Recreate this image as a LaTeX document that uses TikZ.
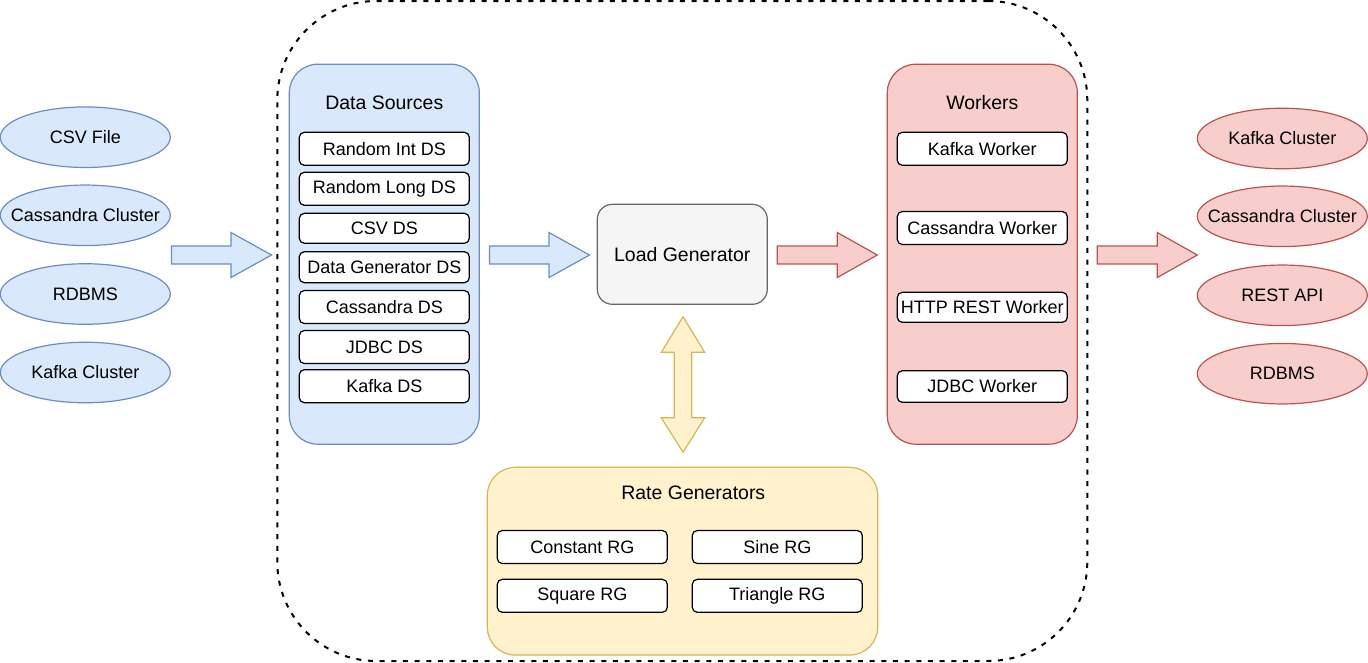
\documentclass[tikz,border=0pt]{standalone}
\usepackage{fontspec}
\setmainfont{Liberation Sans}
\usetikzlibrary{shapes.geometric}

\definecolor{dsfill}{HTML}{DAE8FC}
\definecolor{dsline}{HTML}{6C8EBF}
\definecolor{wkfill}{HTML}{F8CECC}
\definecolor{wkline}{HTML}{B85450}
\definecolor{rgfill}{HTML}{FFF2CC}
\definecolor{rgline}{HTML}{D6B656}
\definecolor{lgfill}{HTML}{F5F5F5}
\definecolor{lgline}{HTML}{666666}

\tikzset{every picture/.style={line width=0.9pt}}
\tikzset{
  itemfont/.style={font=\fontsize{13.5pt}{16pt}\selectfont},
  titlefont/.style={font=\fontsize{14.6pt}{17pt}\selectfont},
  srcell/.style={ellipse, draw=dsline, fill=dsfill, minimum width=127.5pt, minimum height=45.4pt, inner xsep=-14pt, inner ysep=0pt, itemfont},
  dstell/.style={ellipse, draw=wkline, fill=wkfill, minimum width=127.5pt, minimum height=45.4pt, inner xsep=-14pt, inner ysep=0pt, itemfont},
  itembox/.style={draw=black, fill=white, rounded corners=3.75pt, minimum width=127.5pt, minimum height=24.75pt, inner sep=0pt, itemfont},
  dsgroup/.style={draw=dsline, fill=dsfill, rounded corners=21.4pt, minimum width=142.5pt, minimum height=285pt, inner sep=0pt},
  wkgroup/.style={draw=wkline, fill=wkfill, rounded corners=21.4pt, minimum width=142.5pt, minimum height=285pt, inner sep=0pt},
  rggroup/.style={draw=rgline, fill=rgfill, rounded corners=21pt, minimum width=292.8pt, minimum height=140.8pt, inner sep=0pt},
  lgbox/.style={draw=lgline, fill=lgfill, rounded corners=11.25pt, minimum width=127.5pt, minimum height=75pt, inner sep=0pt, titlefont},
  system/.style={draw=black, dash pattern=on 3.75pt off 5pt, line width=1.5pt, rounded corners=74.25pt, minimum width=607.5pt, minimum height=495pt, inner sep=0pt},
  blueblock/.style={draw=dsline, fill=dsfill},
  redblock/.style={draw=wkline, fill=wkfill},
  yellowblock/.style={draw=rgline, fill=rgfill},
}

\begin{document}
\begin{tikzpicture}[x=0.75pt,y=0.75pt,yscale=-1,xscale=1]
\useasboundingbox (0,0) rectangle (1368,662);

%Rounded Rect (dashed system border)
\node [system] (sys) at (682.3,331) {};

%Shape: Ellipse (sources)
\node [srcell] (csvfile) at (85.3,137.2) {CSV File};
\node [srcell] (srccass) at (85.3,215.3) {Cassandra Cluster};
\node [srcell] (srcrdbms) at (85.3,294) {RDBMS};
\node [srcell] (srckafka) at (85.3,372.5) {Kafka Cluster};

%Shape: Ellipse (targets)
\node [dstell] (dstkafka) at (1282.3,138.5) {Kafka Cluster};
\node [dstell] (dstcass) at (1282.3,216.3) {Cassandra Cluster};
\node [dstell] (dstrest) at (1282.3,295.3) {REST API};
\node [dstell] (dstrdbms) at (1282.3,373.7) {RDBMS};

%Rounded Rect (data sources)
\node [dsgroup] (ds) at (384.3,254.2) {};
% Text Node
\node [titlefont] (dstitle) at (384.3,102.5) {Data Sources};
\node [itembox] (dsint) at (384.3,148.8) {Random Int DS};
\node [itembox] (dslong) at (384.3,188.8) {Random Long DS};
\node [itembox, minimum height=22.5pt] (dscsv) at (384.3,228.3) {CSV DS};
\node [itembox, minimum height=23.25pt] (dsgen) at (384.3,267.2) {Data Generator DS};
\node [itembox] (dscass) at (384.3,307) {Cassandra DS};
\node [itembox] (dsjdbc) at (384.3,347) {JDBC DS};
\node [itembox] (dskafka) at (384.3,386.2) {Kafka DS};

%Rounded Rect (load generator)
\node [lgbox] (lg) at (682.3,254.3) {Load Generator};

%Rounded Rect (workers)
\node [wkgroup] (wk) at (982.3,254.2) {};
% Text Node
\node [titlefont] (wktitle) at (982.3,103) {Workers};
\node [itembox] (wkkafka) at (982.3,148.8) {Kafka Worker};
\node [itembox] (wkcass) at (982.3,228) {Cassandra Worker};
\node [itembox, minimum height=22.5pt] (wkrest) at (982.3,307.3) {HTTP REST Worker};
\node [itembox, minimum height=23.7pt] (wkjdbc) at (982.3,386.5) {JDBC Worker};

%Rounded Rect (rate generators)
\node [rggroup] (rg) at (682.5,561.2) {};
% Text Node
\node [titlefont] (rgtitle) at (693.3,492.3) {Rate Generators};
\node [itembox] (rgconst) at (582.3,547) {Constant RG};
\node [itembox] (rgsine) at (777.3,547) {Sine RG};
\node [itembox] (rgsquare) at (582.3,595.8) {Square RG};
\node [itembox] (rgtri) at (777.3,595.8) {Triangle RG};

%Right Arrow (sources to data sources)
\draw [blueblock] (171.5,246) -- (231,246) -- (231,232.5) -- (271.5,255) -- (231,277.5) -- (231,264) -- (171.5,264) -- cycle ;
%Right Arrow (data sources to load generator)
\draw [blueblock] (489.5,246) -- (549,246) -- (549,232.5) -- (589.5,255) -- (549,277.5) -- (549,264) -- (489.5,264) -- cycle ;
%Right Arrow (load generator to workers)
\draw [redblock] (777.3,246) -- (837.3,246) -- (837.3,232.5) -- (877.3,255) -- (837.3,277.5) -- (837.3,264) -- (777.3,264) -- cycle ;
%Right Arrow (workers to targets)
\draw [redblock] (1097.3,246) -- (1157.3,246) -- (1157.3,232.5) -- (1197.3,255) -- (1157.3,277.5) -- (1157.3,264) -- (1097.3,264) -- cycle ;
%Up Down Arrow (load generator and rate generators)
\draw [yellowblock] (683,316.7) -- (704.7,352.3) -- (691.7,352.3) -- (691.7,417.7) -- (704.7,417.7) -- (683,452.3) -- (661.3,417.7) -- (674.3,417.7) -- (674.3,352.3) -- (661.3,352.3) -- cycle ;

\end{tikzpicture}
\end{document}
